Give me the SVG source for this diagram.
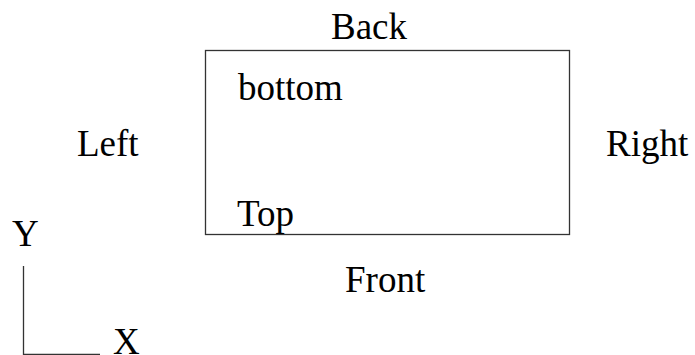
<svg xmlns="http://www.w3.org/2000/svg" width="695" height="355" viewBox="0 0 695 355">
<style>
text{font-family:"Liberation Serif","Times New Roman",serif;font-size:37px;fill:#000}
.ln{stroke:#333;stroke-width:1.3;fill:none}
</style>
<rect width="695" height="355" fill="#fff"/>
<g id="box">
<rect class="ln" x="205.5" y="50.5" width="364" height="184"/>
<text x="238" y="100">bottom</text>
<text x="237" y="226">Top</text>
</g>
<g id="labels">
<text x="331" y="39">Back</text>
<text x="345" y="292">Front</text>
<text x="77" y="156">Left</text>
<text x="606" y="156">Right</text>
</g>
<g id="axes">
<path class="ln" d="M23.5,266 V354.5 H100"/>
<text x="12" y="246">Y</text>
<text x="113" y="354">X</text>
</g>
</svg>
